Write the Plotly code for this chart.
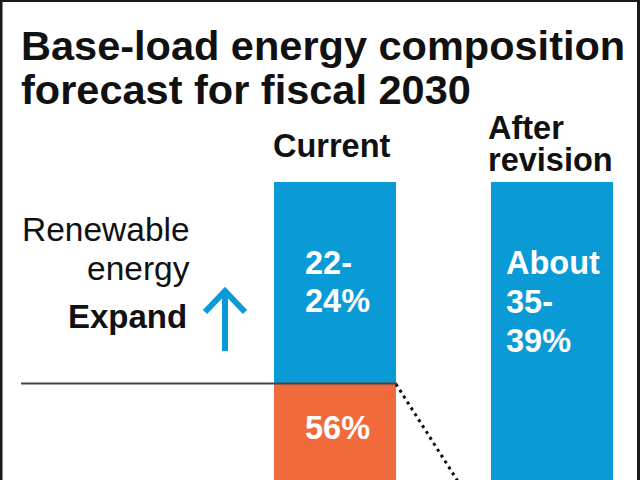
import plotly.graph_objects as go

# ---- data ----
categories = ["Current", "After revision"]
renewable_share = [23, 40]        # drawn height of the blue (renewable) segment, %
fossil_share = [56, None]         # orange segment (current plan thermal power), %
renewable_labels = [["22-", "24%"], ["About", "35-", "39%"]]
fossil_labels = ["56%", None]
category_titles = [["Current"], ["After", "revision"]]

BLUE = "#0a9bd7"
ORANGE = "#f06a3c"
INK = "#111111"
FONT = "Liberation Sans, Arial, sans-serif"

W, H = 640, 480
PLOT_TOP = 182  # pixel where bars start

def px(x):
    return x / W

def py(y):
    return (H - y) / H

xpos = [0, 1]
bar_w = 0.562

fig = go.Figure()
fig.add_trace(go.Bar(x=xpos, y=renewable_share, width=bar_w, marker=dict(color=BLUE, line=dict(width=0)),
                     hoverinfo="skip", showlegend=False))
fig.add_trace(go.Bar(x=xpos, y=fossil_share, width=bar_w, marker=dict(color=ORANGE, line=dict(width=0)),
                     hoverinfo="skip", showlegend=False))
# dotted connector from top of fossil segment (current) toward after revision
fig.add_trace(go.Scatter(x=[xpos[0] + bar_w / 2, xpos[1] - bar_w / 2],
                         y=[renewable_share[0], renewable_share[1]],
                         mode="lines", line=dict(color=INK, width=3, dash="3px,4px"),
                         hoverinfo="skip", showlegend=False))

# pixel scale: Current renewable segment spans 182 -> 384
unit_px = (384 - PLOT_TOP) / renewable_share[0]
ymax = (H - PLOT_TOP) / unit_px
x_unit = 217.0
x0_px = 335.0

annotations = []
# Title
annotations.append(dict(text="<b>Base-load energy composition</b>", x=px(19), y=py(45), xanchor="left", yanchor="middle",
                        font=dict(size=41.5, color=INK, family=FONT)))
annotations.append(dict(text="<b>forecast for fiscal 2030</b>", x=px(19), y=py(89), xanchor="left", yanchor="middle",
                        font=dict(size=41.5, color=INK, family=FONT)))
# Category titles
cat_lines_pos = [[(271, 146)], [(486, 128), (486, 160)]]
for lines, pos in zip(category_titles, cat_lines_pos):
    for t, (lx, ly) in zip(lines, pos):
        annotations.append(dict(text=f"<b>{t}</b>", x=px(lx), y=py(ly), xanchor="left", yanchor="middle",
                                font=dict(size=32.5, color=INK, family=FONT)))
# Left side labels
annotations.append(dict(text="Renewable", x=px(192), y=py(229), xanchor="right", yanchor="middle",
                        font=dict(size=33.5, color=INK, family=FONT)))
annotations.append(dict(text="energy", x=px(192), y=py(268), xanchor="right", yanchor="middle",
                        font=dict(size=33.5, color=INK, family=FONT)))
annotations.append(dict(text="<b>Expand</b>", x=px(189), y=py(316), xanchor="right", yanchor="middle",
                        font=dict(size=33, color=INK, family=FONT)))
# Bar labels (white)
label_pos = [[(303, 263), (303, 301)], [(504, 263), (504, 302), (504, 341)]]
for lines, pos in zip(renewable_labels, label_pos):
    for t, (lx, ly) in zip(lines, pos):
        annotations.append(dict(text=f"<b>{t}</b>", x=px(lx), y=py(ly), xanchor="left", yanchor="middle",
                                font=dict(size=32.5, color="white", family=FONT)))
annotations.append(dict(text=f"<b>{fossil_labels[0]}</b>", x=px(303), y=py(428), xanchor="left", yanchor="middle",
                        font=dict(size=32.5, color="white", family=FONT)))
for a in annotations:
    a.update(xref="paper", yref="paper", showarrow=False)

shapes = [
    # baseline under renewable segment
    dict(type="line", xref="paper", yref="paper", x0=px(21), x1=px(397), y0=py(383.5), y1=py(383.5),
         line=dict(color="#444444", width=2)),
    # up arrow (shaft + chevron)
    dict(type="line", xref="paper", yref="paper", x0=px(225), x1=px(225), y0=py(351), y1=py(290),
         line=dict(color=BLUE, width=6)),
    dict(type="path", xref="paper", yref="paper",
         path=f"M {px(205)} {py(312)} L {px(225)} {py(291)} L {px(245)} {py(312)}",
         line=dict(color=BLUE, width=6)),
    # frame
    dict(type="rect", xref="paper", yref="paper", x0=px(1), x1=px(638.5), y0=py(500), y1=py(0.5),
         line=dict(color="#1a1a1a", width=3), fillcolor="rgba(0,0,0,0)"),
]

fig.update_layout(
    width=W, height=H,
    margin=dict(l=0, r=0, t=0, b=0),
    paper_bgcolor="white", plot_bgcolor="white",
    barmode="stack", bargap=0,
    xaxis=dict(range=[(0 - x0_px) / x_unit, (W - x0_px) / x_unit], visible=False, fixedrange=True),
    yaxis=dict(range=[ymax, 0], domain=[0, (H - PLOT_TOP) / H], visible=False, fixedrange=True),
    annotations=annotations,
    shapes=shapes,
)

fig.write_html("out.html", config={"displayModeBar": False},
               post_script="document.body.style.margin='0';document.body.style.overflow='hidden';")
